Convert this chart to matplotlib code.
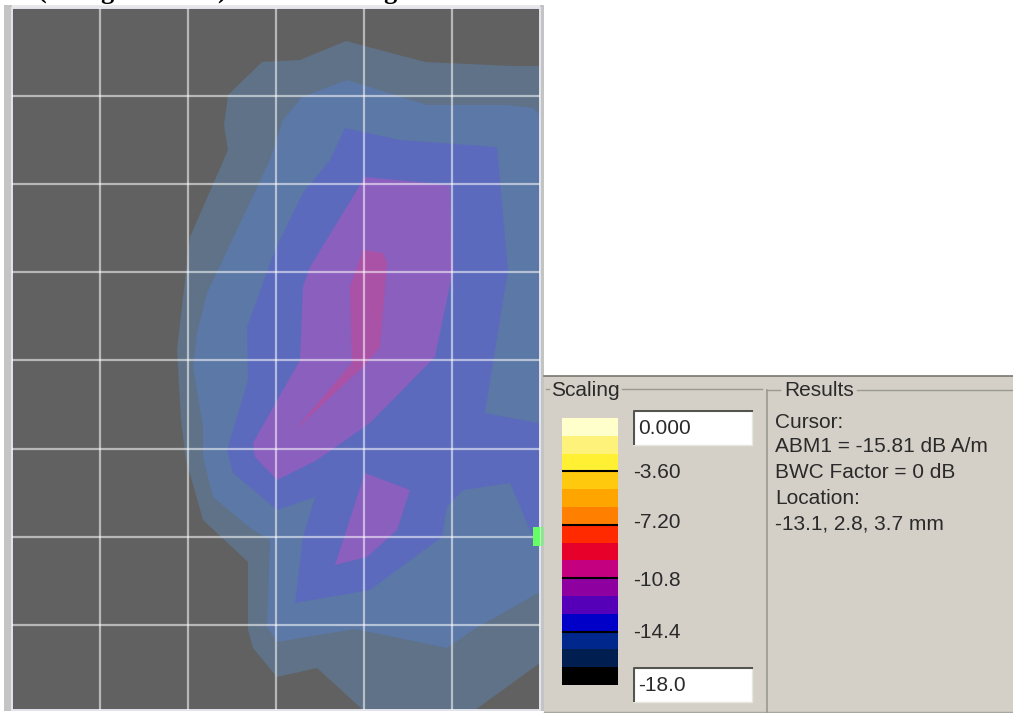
import matplotlib
matplotlib.use("Agg")
import matplotlib.pyplot as plt
from matplotlib.patches import Polygon, Rectangle
from matplotlib.colors import ListedColormap
import numpy as np

W, H = 1013, 713

# contour outlines, in screen pixels
outer = [(540, 66), (512, 66), (425, 62), (346, 41), (300, 60), (262, 62), (228, 95), (224, 125), (228, 150),
         (190, 237), (177, 350), (181, 420), (186, 460), (203, 520), (248, 562), (248, 630), (253, 648),
         (277, 677), (317, 668), (363, 710), (475, 710), (540, 663)]
band2 = [(540, 115), (533, 108), (507, 105), (427, 105), (347, 80), (302, 97), (283, 120), (270, 160), (207, 293),
         (197, 333), (193, 367), (203, 427), (203, 457), (213, 497), (250, 528), (270, 540), (267, 627), (277, 642),
         (355, 629), (447, 648), (473, 630), (540, 592)]
band3 = [(540, 430), (538, 423), (485, 413), (508, 270), (497, 147), (400, 140), (345, 128), (330, 160),
         (303, 193), (275, 250), (247, 327), (248, 380), (227, 450), (233, 473), (277, 510), (315, 497), (303, 537),
         (295, 603), (370, 590), (442, 537), (447, 507), (463, 490), (510, 483), (533, 537), (540, 545)]
band4a = [(365, 177), (450, 185), (453, 270), (435, 357), (370, 423), (317, 460), (277, 480), (255, 457),
          (253, 443), (300, 360), (303, 287), (310, 267)]
band4b = [(365, 473), (410, 490), (397, 530), (367, 557), (335, 565)]
band5 = [(363, 250), (383, 253), (387, 263), (380, 347), (363, 367), (295, 430), (352, 363), (350, 287)]

map_colors = ["#5f7287", "#5c78a6", "#5b6abd", "#8a5fbe", "#aa52a6"]
map_bands = [[outer], [band2], [band3], [band4a, band4b], [band5]]
grid_x = [100, 188, 276, 364, 452]
grid_y = [96, 184, 272, 360, 449, 537, 625]

# scale bar
scale_levels = np.linspace(0, -18, 16)
scale_colors = ["#ffffcc", "#fff27a", "#fff033", "#ffc90e", "#ffa500", "#ff7f00", "#ff2a00", "#e6002a", "#c40080",
                "#8f00a0", "#5500b8", "#0000c8", "#00288c", "#001e50", "#000000"]
major_levels = [-3.6, -7.2, -10.8, -14.4]
major_labels = ["-3.60", "-7.20", "-10.8", "-14.4"]
major_label_y = [472, 523, 581, 633]

results_lines = ["Cursor:", "ABM1 = -15.81 dB A/m", "BWC Factor = 0 dB", "Location:", "-13.1, 2.8, 3.7 mm"]
results_y = [422, 447, 472, 498, 524]

# only the descenders of the caption above the map are left in the picture
caption_bits = ["(", "g", ")", "g"]
caption_x = [42, 107, 222, 390]

plt.rcParams["font.family"] = ["Liberation Sans", "DejaVu Sans"]
UI_SIZE = 15
UI_TEXT = "#2a2a2a"


def pixel_axes(fig, x0, y0, x1, y1):
    return fig.add_axes([x0 / W, 1 - y1 / H, (x1 - x0) / W, (y1 - y0) / H])


fig = plt.figure(figsize=(W / 100, H / 100), dpi=100, facecolor="white")

# window background, in screen pixels
bg = pixel_axes(fig, 0, 0, W, H)
bg.set_xlim(0, W)
bg.set_ylim(H, 0)
bg.axis("off")
bg.add_patch(Rectangle((4, 5), 540, 706, fc="#c4c4c4", ec="none"))
bg.add_patch(Rectangle((12, 5), 528, 3, fc="#e8e8e8", ec="none"))
bg.add_patch(Rectangle((544, 376), W - 544, H - 376, fc="#d4d0c8", ec="none"))
bg.plot([544, W], [375.5, 375.5], color="#777770", lw=1.2)
bg.plot([544, W], [711.5, 711.5], color="#a8a69e", lw=1)
for bit, x in zip(caption_bits, caption_x):
    bg.text(x, -1, bit, family="Liberation Serif", weight="bold", fontsize=19, ha="center", va="baseline", clip_on=True)

# group boxes
bg.plot([546, 549], [389, 389], color="#9a9890", lw=1)
bg.plot([622, 762], [389, 389], color="#9a9890", lw=1)
bg.plot([767, 767], [390, H], color="#9a9890", lw=1.2)
bg.plot([767, 780], [390, 390], color="#9a9890", lw=1)
bg.plot([857, W], [390, 390], color="#9a9890", lw=1)
bg.text(551, 391, "Scaling", fontsize=UI_SIZE, va="center", color=UI_TEXT)
bg.text(784, 391, "Results", fontsize=UI_SIZE, va="center", color=UI_TEXT)

for y0, y1, label in [(410, 445, "0.000"), (667, 702, "-18.0")]:
    bg.add_patch(Rectangle((633, y0), 119, y1 - y0, fc="white", ec="#e8e6e0", lw=1))
    bg.plot([634, 634, 752], [y1 - 1, y0 + 1, y0 + 1], color="#555550", lw=1.5)
    bg.text(638, (y0 + y1) / 2 + 1, label, fontsize=UI_SIZE, va="center", color=UI_TEXT)

for y, label in zip(major_label_y, major_labels):
    bg.text(633, y, label, fontsize=UI_SIZE, va="center", color=UI_TEXT)
for y, line in zip(results_y, results_lines):
    bg.text(775, y, line, fontsize=UI_SIZE, va="center", color=UI_TEXT)

# contour map
ax = pixel_axes(fig, 12, 8, 540, 710)
ax.set_xlim(12, 540)
ax.set_ylim(710, 8)
ax.set_facecolor("#616161")
for colour, shapes in zip(map_colors, map_bands):
    for shape in shapes:
        ax.add_patch(Polygon(shape, closed=True, fc=colour, ec="none", zorder=1))
ax.set_xticks(grid_x)
ax.set_yticks(grid_y)
ax.tick_params(length=0, labelbottom=False, labelleft=False)
ax.grid(True, color="white", alpha=0.55, lw=1.6, zorder=2)
ax.set_axisbelow(False)
for spine in ax.spines.values():
    spine.set_color("#e4e4ee")
    spine.set_linewidth(1.4)
ax.add_patch(Rectangle((533, 527), 7, 19, fc="#66ff66", ec="none", zorder=3))
bg.add_patch(Rectangle((540, 527), 3, 19, fc="#66ff66", ec="none", zorder=5))

# scale bar
sc = pixel_axes(fig, 562, 418, 618, 685)
sc.pcolormesh([0, 1], scale_levels, np.arange(15).reshape(-1, 1), cmap=ListedColormap(scale_colors), vmin=0, vmax=14)
sc.hlines(major_levels, 0, 1, color="black", lw=1.5)
sc.set_xlim(0, 1)
sc.set_ylim(-18, 0)
sc.axis("off")

fig.savefig("out.png", dpi=100)
